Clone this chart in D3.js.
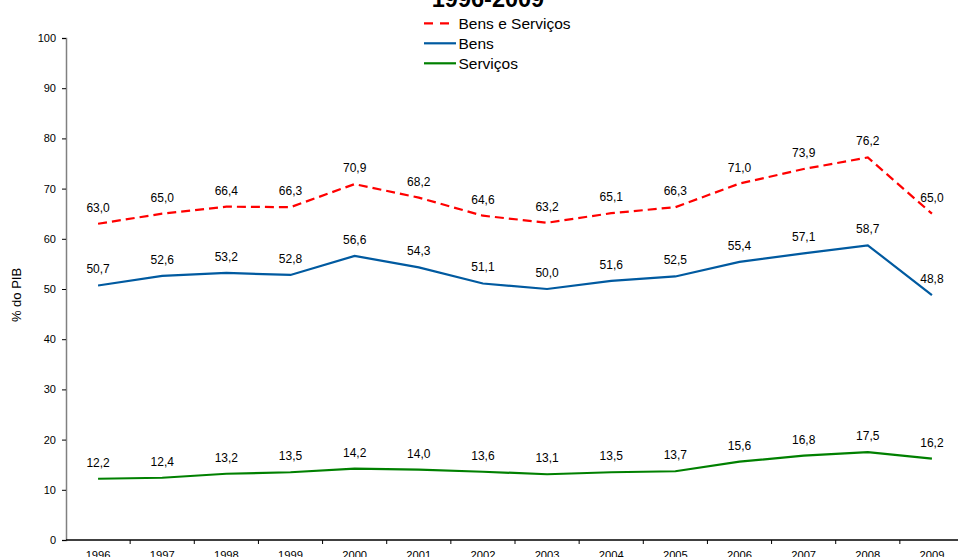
<!DOCTYPE html>
<html><head><meta charset="utf-8">
<script src="https://cdn.jsdelivr.net/npm/d3@7"></script>
<style>body{margin:0;background:#fff}svg{display:block;font-family:"Liberation Sans",Arial,sans-serif}</style>
</head><body><svg id="c" width="958" height="557"></svg>
<script>
const years = ["1996","1997","1998","1999","2000","2001","2002","2003","2004","2005","2006","2007","2008","2009"];
const bensServicos = [63.0,65.0,66.4,66.3,70.9,68.2,64.6,63.2,65.1,66.3,71.0,73.9,76.2,65.0];
const bens = [50.7,52.6,53.2,52.8,56.6,54.3,51.1,50.0,51.6,52.5,55.4,57.1,58.7,48.8];
const servicos = [12.2,12.4,13.2,13.5,14.2,14.0,13.6,13.1,13.5,13.7,15.6,16.8,17.5,16.2];
const yTicks = [0,10,20,30,40,50,60,70,80,90,100];

const series = [
  {name:"Bens e Serviços", values:bensServicos, color:"#ff0000", dash:"9,5", legendDash:"9,7"},
  {name:"Bens", values:bens, color:"#005aa0", dash:null, legendDash:null},
  {name:"Serviços", values:servicos, color:"#008000", dash:null, legendDash:null}
];

const svg = d3.select("#c");
const mLeft = 66, mRight = 964, mTop = 38, mBottom = 540;
const x = d3.scaleBand().domain(years).range([mLeft, mRight]);
const y = d3.scaleLinear().domain([0,100]).range([mBottom, mTop]);
const fmt = v => d3.format(".1f")(v).replace(".", ",");

// y axis
const ya = svg.append("g").attr("transform",`translate(${mLeft},0)`)
  .call(d3.axisLeft(y).tickValues(yTicks).tickSize(4).tickPadding(6));
ya.select(".domain").attr("stroke","#808080").attr("stroke-width",1.5);
ya.selectAll(".tick line").attr("stroke","#000");
ya.selectAll("text").attr("font-size",11).attr("fill","#000").attr("font-family","Liberation Sans, Arial");

// x axis: ticks between categories
const xa = svg.append("g").attr("transform",`translate(0,${mBottom})`);
xa.append("line").attr("x1",mLeft).attr("x2",mRight).attr("stroke","#000").attr("stroke-width",1.5);
xa.selectAll("line.t").data(years.slice(1)).join("line").attr("class","t")
  .attr("x1",d=>x(d)).attr("x2",d=>x(d)).attr("y1",0).attr("y2",4).attr("stroke","#000");
xa.selectAll("text").data(years).join("text")
  .attr("x",d=>x(d)+x.bandwidth()/2).attr("y",19)
  .attr("text-anchor","middle").attr("font-size",11.2).text(d=>d);

// y label
svg.append("text").attr("transform",`translate(21,295) rotate(-90)`)
  .attr("text-anchor","middle").attr("font-size",13).text("% do PIB");

// lines and value labels
const cx = i => x(years[i]) + x.bandwidth()/2;
const line = d3.line().x((d,i)=>cx(i)).y(d=>y(d));
series.forEach(s=>{
  svg.append("path").datum(s.values).attr("d",line).attr("fill","none")
    .attr("stroke",s.color).attr("stroke-width",2.2)
    .attr("stroke-dasharray",s.dash);
  svg.append("g").selectAll("text").data(s.values).join("text")
    .attr("x",(d,i)=>cx(i)).attr("y",d=>y(d)-12)
    .attr("text-anchor","middle").attr("font-size",12).text(fmt);
});

// title
svg.append("text").attr("x",488).attr("y",7).attr("text-anchor","middle")
  .attr("font-size",23.5).attr("font-weight","bold").text("1996-2009");

// legend
const lg = svg.append("g");
series.forEach((s,i)=>{
  const yy = 23.3 + i*20;
  lg.append("line").attr("x1",424).attr("x2",s.legendDash?450:456).attr("y1",yy).attr("y2",yy)
    .attr("stroke",s.color).attr("stroke-width",2.2).attr("stroke-dasharray",s.legendDash);
  lg.append("text").attr("x",458.5).attr("y",yy+5.2).attr("font-size",15.5).text(s.name);
});
</script></body></html>
